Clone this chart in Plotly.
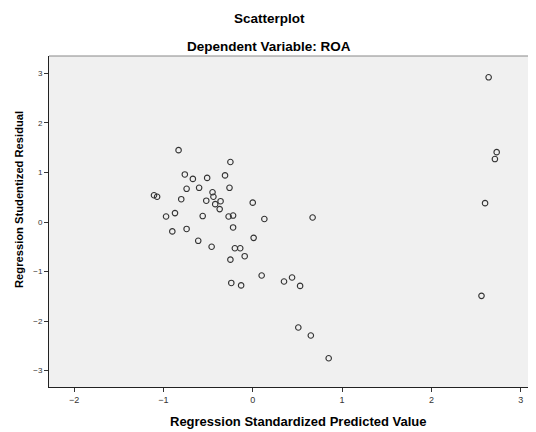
import plotly.graph_objects as go

predicted = [-0.83, -0.25, -0.76, -0.67, -0.51, -0.31, -0.74, -0.60, -0.26, -1.105,
             -1.07, -0.80, -0.45, -0.44, -0.52, -0.36, -0.42, -0.37, 0.00, -0.97,
             -0.87, -0.56, -0.27, -0.22, 0.13, -0.90, -0.74, -0.22, -0.61, -0.46,
             0.01, -0.20, -0.14, -0.09, -0.25, 0.10, -0.24, -0.13, 0.35, 0.44,
             0.53, 0.67, 0.51, 0.65, 0.85, 2.64, 2.73, 2.71, 2.60, 2.56]
residual = [1.45, 1.21, 0.96, 0.87, 0.89, 0.94, 0.67, 0.69, 0.69, 0.54,
            0.51, 0.46, 0.60, 0.51, 0.43, 0.42, 0.36, 0.26, 0.39, 0.11,
            0.18, 0.12, 0.11, 0.13, 0.06, -0.19, -0.14, -0.11, -0.38, -0.50,
            -0.32, -0.53, -0.53, -0.69, -0.76, -1.08, -1.23, -1.28, -1.20, -1.12,
            -1.29, 0.09, -2.13, -2.29, -2.75, 2.92, 1.41, 1.27, 0.38, -1.49]
x_ticks = [-2, -1, 0, 1, 2, 3]
y_ticks = [-3, -2, -1, 0, 1, 2, 3]

FONT = "Liberation Sans, Arial, sans-serif"
OFF = 8  # page body margin
W, H = 536 - OFF, 432 - OFF
ML, MR, MT, MB = 49 - OFF, 0, 56 - OFF, 45
plot_h = H - MT - MB
plot_w = W - ML - MR

def py_to_paper(py):
    return (H - MB - (py - OFF)) / plot_h

def px_to_paper(px):
    return ((px - OFF) - ML) / plot_w

fig = go.Figure(go.Scatter(
    x=predicted, y=residual, mode="markers",
    marker=dict(symbol="circle-open", size=5.5, color="#333333", line=dict(width=1.1)),
    showlegend=False,
))

fig.update_layout(
    width=W, height=H,
    margin=dict(l=ML, r=MR, t=MT, b=MB, autoexpand=False),
    paper_bgcolor="white", plot_bgcolor="#f0f0f0",
    font=dict(family=FONT, color="#222222"),
    annotations=[
        dict(text="<b>Scatterplot</b>", x=px_to_paper(269), y=py_to_paper(19), xref="paper",
             yref="paper", yanchor="middle", showarrow=False,
             font=dict(size=13.5, family=FONT, color="black")),
        dict(text="<b>Dependent Variable: ROA</b>", x=px_to_paper(269), y=py_to_paper(46),
             xref="paper", yref="paper", yanchor="middle", showarrow=False,
             font=dict(size=13.5, family=FONT, color="black")),
        dict(text="<b>Regression Standardized Predicted Value</b>", x=px_to_paper(298),
             y=py_to_paper(421), xref="paper", yref="paper", yanchor="middle",
             showarrow=False, font=dict(size=13, family=FONT, color="black")),
        dict(text="<b>Regression Studentized Residual</b>", x=px_to_paper(19),
             y=py_to_paper(200), xref="paper", yref="paper", xanchor="center",
             yanchor="middle", textangle=-90, showarrow=False,
             font=dict(size=11.2, family=FONT, color="black")),
    ],
)

fig.update_xaxes(
    range=[-2.28, 3.17], tickvals=x_ticks, ticks="outside", ticklen=4,
    tickcolor="#333333", tickfont=dict(size=9, color="#333333"),
    showgrid=False, zeroline=False, showline=True, linecolor="#222222", linewidth=1,
    automargin=False,
)
fig.update_yaxes(
    range=[-3.33, 3.35], tickvals=y_ticks, ticks="outside", ticklen=4,
    tickcolor="#333333", tickfont=dict(size=8, color="#333333"),
    showgrid=False, zeroline=False, showline=True, linecolor="#222222", linewidth=1,
    automargin=False,
)
fig.add_shape(type="line", xref="paper", yref="paper", x0=0, x1=1, y0=1, y1=1,
              line=dict(color="#888888", width=1))

fig.write_html("out.html")
